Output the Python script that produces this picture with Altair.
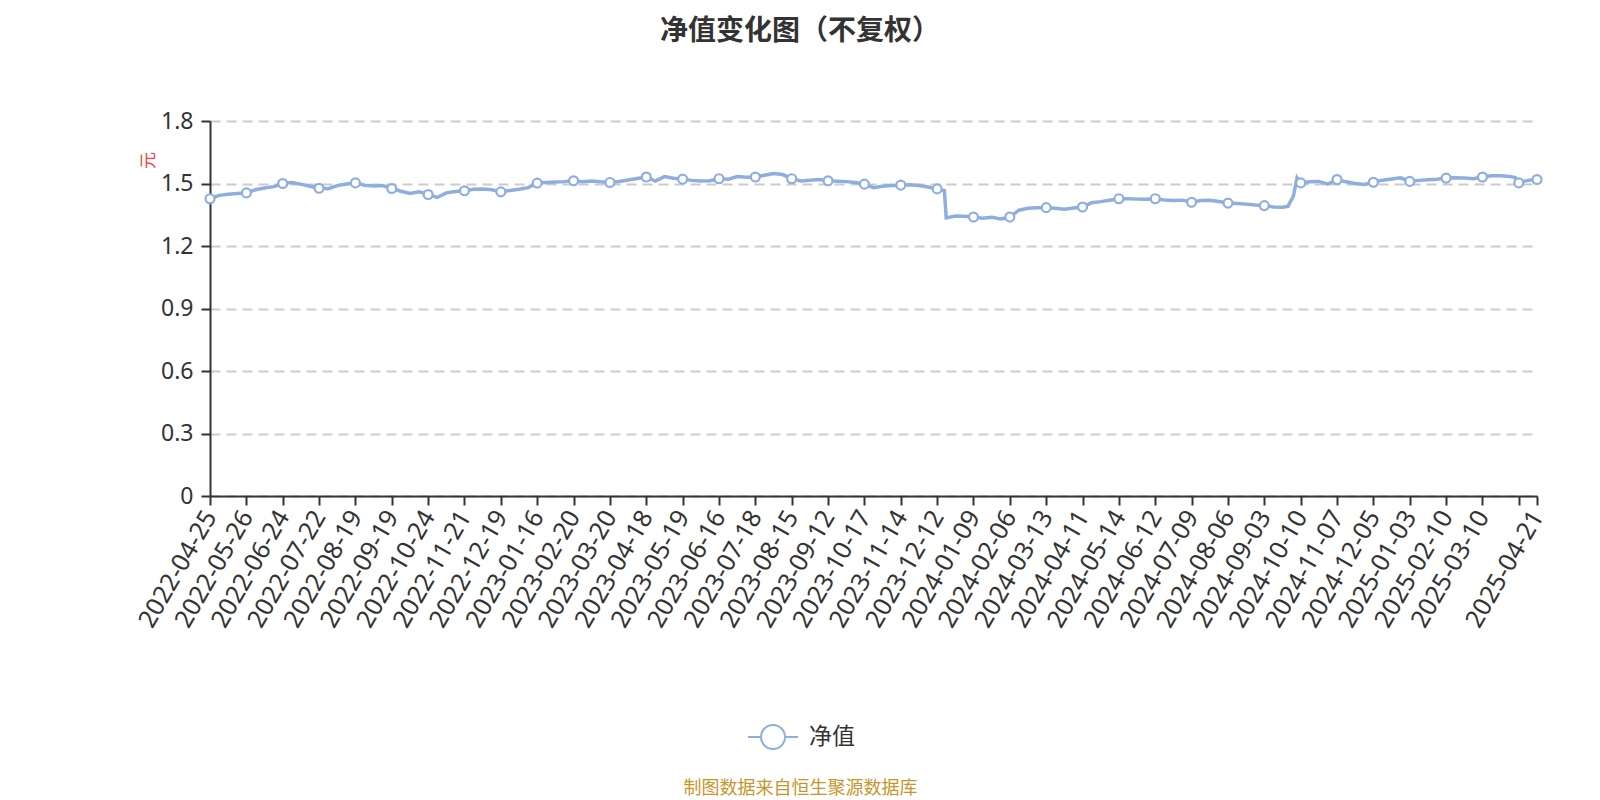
import altair as alt
import pandas as pd

# ---- data ----
DATES = [
    "2022-04-25", "2022-05-26", "2022-06-24", "2022-07-22", "2022-08-19", "2022-09-19",
    "2022-10-24", "2022-11-21", "2022-12-19", "2023-01-16", "2023-02-20", "2023-03-20",
    "2023-04-18", "2023-05-19", "2023-06-16", "2023-07-18", "2023-08-15", "2023-09-12",
    "2023-10-17", "2023-11-14", "2023-12-12", "2024-01-09", "2024-02-06", "2024-03-13",
    "2024-04-11", "2024-05-14", "2024-06-12", "2024-07-09", "2024-08-06", "2024-09-03",
    "2024-10-10", "2024-11-07", "2024-12-05", "2025-01-03", "2025-02-10", "2025-03-10",
]
LAST_DATE = "2025-04-21"
LAST_IDX = 730
LABEL_STEP = 20

IDX = [
    0, 5, 10, 15, 20, 25, 30, 35, 40, 45, 50, 55, 60, 65, 70, 75, 80, 85, 90, 95,
    100, 105, 110, 115, 120, 125, 130, 135, 140, 145, 150, 155, 160, 165, 170, 175,
    180, 185, 190, 195, 200, 205, 210, 215, 220, 225, 230, 235, 240, 245, 250, 255,
    260, 265, 270, 275, 280, 285, 290, 295, 300, 305, 310, 315, 320, 325, 330, 335,
    340, 345, 350, 355, 360, 365, 370, 375, 380, 385, 390, 395, 400, 404, 405, 410,
    415, 420, 425, 430, 435, 440, 445, 450, 455, 460, 465, 470, 475, 480, 485, 490,
    495, 500, 505, 510, 515, 520, 525, 530, 535, 540, 545, 550, 555, 560, 565, 570,
    575, 580, 585, 590, 593, 596, 598, 600, 605, 610, 615, 620, 625, 630, 635, 640,
    645, 650, 655, 660, 665, 670, 675, 680, 685, 690, 695, 700, 705, 710, 715, 718,
    720, 725, 730,
]
NAV = [
    1.427, 1.443, 1.448, 1.452, 1.455, 1.470, 1.478, 1.485, 1.500, 1.505, 1.497, 1.487,
    1.477, 1.475, 1.490, 1.498, 1.503, 1.492, 1.488, 1.490, 1.476, 1.463, 1.452, 1.460,
    1.447, 1.433, 1.455, 1.462, 1.465, 1.472, 1.474, 1.470, 1.460, 1.466, 1.472, 1.480,
    1.502, 1.505, 1.507, 1.509, 1.513, 1.509, 1.512, 1.508, 1.505, 1.510, 1.517, 1.524,
    1.531, 1.512, 1.533, 1.525, 1.521, 1.515, 1.512, 1.513, 1.523, 1.520, 1.533, 1.530,
    1.531, 1.540, 1.548, 1.543, 1.523, 1.512, 1.516, 1.519, 1.513, 1.511, 1.509, 1.505,
    1.497, 1.480, 1.487, 1.490, 1.492, 1.494, 1.490, 1.483, 1.474, 1.466, 1.335, 1.344,
    1.343, 1.339, 1.333, 1.338, 1.330, 1.339, 1.372, 1.381, 1.384, 1.384, 1.381, 1.377,
    1.382, 1.387, 1.408, 1.413, 1.420, 1.427, 1.427, 1.425, 1.424, 1.427, 1.421, 1.419,
    1.420, 1.410, 1.418, 1.420, 1.414, 1.406, 1.404, 1.401, 1.397, 1.394, 1.387, 1.386,
    1.390, 1.440, 1.527, 1.503, 1.508, 1.510, 1.497, 1.519, 1.508, 1.500, 1.495, 1.506,
    1.516, 1.522, 1.527, 1.510, 1.515, 1.518, 1.520, 1.526, 1.527, 1.526, 1.523, 1.531,
    1.537, 1.537, 1.534, 1.528, 1.503, 1.515, 1.519,
]
SERIES = "净值"
Y_TICKS = [0, 0.3, 0.6, 0.9, 1.2, 1.5, 1.8]

TITLE = "净值变化图（不复权）"
Y_TITLE = "元"
SOURCE = "制图数据来自恒生聚源数据库"

# ---- styling ----
LINE_COLOR = "#8eaee0"
CJK = "Noto Sans CJK SC"
LATIN = "Noto Sans"
TEXT = "#333333"

df = pd.DataFrame({"idx": IDX, "nav": NAV, "series": SERIES})

tick_values = list(range(0, LAST_IDX, LABEL_STEP)) + [LAST_IDX]
arr = "[" + ",".join("'%s'" % d for d in DATES) + "]"
label_expr = (
    f"datum.value >= {LAST_IDX} ? '{LAST_DATE}' : "
    f"(datum.value >= {len(DATES) * LABEL_STEP} ? '' : {arr}[floor(datum.value / {LABEL_STEP})])"
)

x_enc = alt.X(
    "idx:Q",
    scale=alt.Scale(domain=[0, LAST_IDX], nice=False, zero=False),
    axis=alt.Axis(
        values=tick_values,
        labelExpr=label_expr,
        labelAngle=300,
        labelAlign="right",
        labelBaseline="middle",
        labelFont=LATIN,
        labelFontSize=25,
        labelColor=TEXT,
        labelPadding=7,
        labelOverlap=False,
        labelFlush=False,
        labelBound=False,
        grid=False,
        domainColor=TEXT,
        domainWidth=2,
        tickColor=TEXT,
        tickWidth=2,
        tickSize=9,
        title=SOURCE,
        titleFont=CJK,
        titleFontSize=18,
        titleFontWeight="normal",
        titleColor="#c8952c",
        titleX=590,
        titleY=292,
        titleAlign="center",
        titleBaseline="middle",
    ),
)
y_enc = alt.Y(
    "nav:Q",
    scale=alt.Scale(domain=[0, 1.8], nice=False),
    axis=alt.Axis(
        values=Y_TICKS,
        format="~g",
        labelFont=LATIN,
        labelFontSize=23,
        labelColor=TEXT,
        labelPadding=8,
        domainColor=TEXT,
        domainWidth=2,
        tickColor=TEXT,
        tickWidth=2,
        tickSize=9,
        grid=True,
        gridColor="#cccccc",
        gridWidth=2,
        gridDash=[10, 6],
        title=Y_TITLE,
        titleFont=CJK,
        titleFontSize=17,
        titleFontWeight="normal",
        titleColor="#ff3b3b",
        titleAngle=270,
        titleX=-62,
        titleY=39,
        titleAlign="center",
        titleBaseline="middle",
    ),
)

legend_path = (
    "M-1,0L-0.48,0M0.48,0L1,0"
    "M-0.48,0A0.48,0.48,0,1,1,0.48,0A0.48,0.48,0,1,1,-0.48,0Z"
)

base = alt.Chart(df).encode(x=x_enc, y=y_enc)

line = base.mark_line(strokeWidth=3.5, interpolate="linear").encode(
    color=alt.Color(
        "series:N",
        scale=alt.Scale(domain=[SERIES], range=[LINE_COLOR]),
        legend=alt.Legend(
            title=None,
            orient="none",
            legendX=537,
            legendY=590,
            direction="horizontal",
            symbolType=legend_path,
            symbolSize=2500,
            symbolStrokeWidth=2,
            symbolFillColor="white",
            labelFont=CJK,
            labelFontSize=23,
            labelColor=TEXT,
            labelOffset=10,
            padding=0,
        ),
    ),
)

points = (
    base.transform_filter(f"datum.idx % {LABEL_STEP} == 0 || datum.idx == {LAST_IDX}")
    .mark_point(shape="circle", filled=True, fill="white", stroke=LINE_COLOR,
                strokeWidth=2.2, size=80, opacity=1)
)

chart = (
    alt.layer(line, points)
    .properties(
        width=1327,
        height=375,
        padding={"left": 202, "top": 113, "right": 55, "bottom": 302},
        autosize=alt.AutoSizeParams(type="none"),
        title=alt.TitleParams(
            TITLE,
            font=CJK,
            fontSize=28,
            fontWeight="bold",
            color=TEXT,
            anchor="middle",
            dx=-73.5,
            offset=64,
        ),
    )
    .configure_view(stroke=None)
    .configure_axis(labelOverlap=False)
)

chart.save("out.html", embed_options={"renderer": "svg", "actions": False})
